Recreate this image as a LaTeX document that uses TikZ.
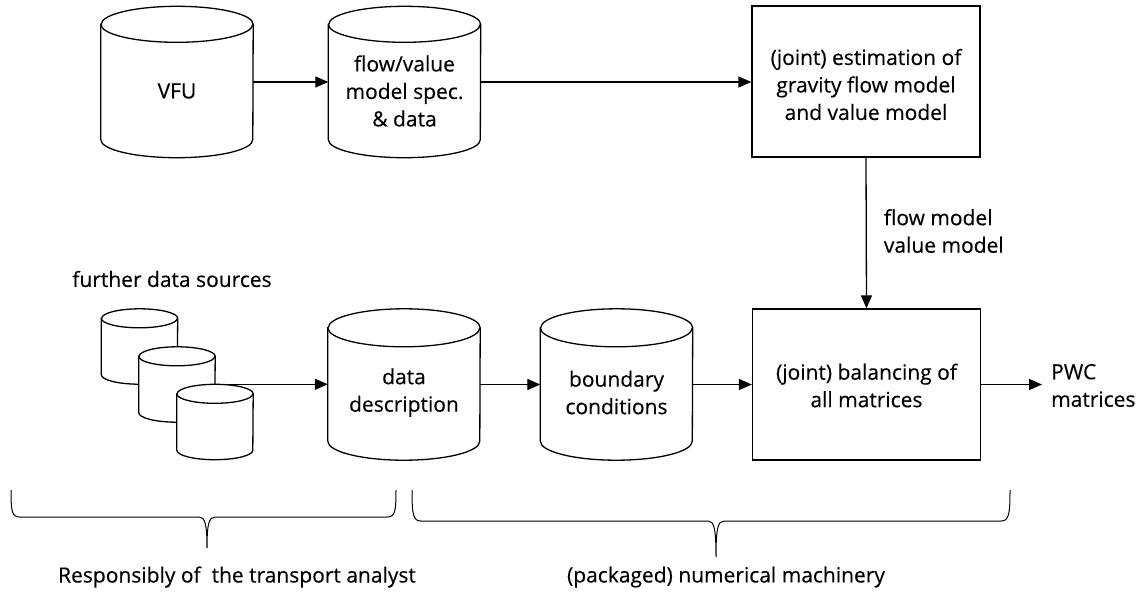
\documentclass[tikz,border=0pt]{standalone}
\usepackage{fontspec}
\newfontfamily\labelfont{Open Sans}[FakeBold=0.3]
\usetikzlibrary{arrows.meta}

\tikzset{
  base/.style={line width=1.3pt, draw=black},
  txt/.style={font=\labelfont\fontsize{21}{27.5}\selectfont, align=center, inner sep=0pt},
  % invisible frame of a drum-shaped data store; the outline is drawn by \drum
  dbframe/.style={rectangle, inner sep=0pt, minimum width=152pt, minimum height=151pt},
  smallframe/.style={rectangle, inner sep=0pt, minimum width=76pt, minimum height=75pt},
  proc/.style={base, txt, rectangle, minimum width=228pt, minimum height=151pt},
  arr/.style={line width=1.3pt, -{Triangle[length=13pt,width=11pt]}},
  bracepath/.style={line width=1pt},
}

% \drum{node}{x radius}{cap radius}: cylinder outline filling the node's frame
\newcommand\drum[3]{%
  \draw[base, fill=white]
    ([yshift=-#3]#1.north west) -- ([yshift=#3]#1.south west)
    arc[start angle=180, end angle=360, x radius=#2, y radius=#3]
    -- ([yshift=-#3]#1.north east)
    arc[start angle=0, end angle=180, x radius=#2, y radius=#3] -- cycle;
  \draw[base] ([yshift=-#3]#1.north west)
    arc[start angle=180, end angle=360, x radius=#2, y radius=#3];
}

\begin{document}
\begin{tikzpicture}[x=1pt, y=-1pt]
\useasboundingbox (0,0) rectangle (1138,592);

% top row
\node[dbframe] (vfu)  at (177,82) {};
\drum{vfu}{76pt}{18pt}
\node[txt] (vfu-t) at ([yshift=-9pt]vfu.center) {VFU};

\node[dbframe] (spec) at (404.5,82) {};
\drum{spec}{76pt}{18pt}
\node[txt] (spec-t) at ([yshift=-9pt]spec.center) {flow/value\\model spec.\\\& data};

\node[proc] (est) at (866,81.5) {};
\node[txt] (est-t) at ([yshift=-3pt]est.center) {(joint) estimation of\\gravity flow model\\and value model};

% further data sources: three stacked drums
\node[smallframe] (src1) at (139.5,346.5) {};
\drum{src1}{38pt}{9.5pt}
\node[smallframe] (src2) at (177,384.5) {};
\drum{src2}{38pt}{9.5pt}
\node[smallframe] (src3) at (215,422) {};
\drum{src3}{38pt}{9.5pt}
\node[txt] (srclabel) at (172,279) {further data sources};

% bottom row
\node[dbframe] (desc) at (404,384.5) {};
\drum{desc}{76pt}{19pt}
\node[txt] (desc-t) at ([yshift=-8pt]desc.center) {data\\description};

\node[dbframe] (bound) at (616.5,384.5) {};
\drum{bound}{76pt}{19pt}
\node[txt] (bound-t) at ([yshift=-8pt]bound.center) {boundary\\conditions};

\node[proc] (bal) at (866.5,384.5) {};
\node[txt] (bal-t) at ([yshift=-1pt]bal.center) {(joint) balancing of\\all matrices};

\node[txt, anchor=west, align=left] (pwc) at (1051,385.5) {PWC\\matrices};
\coordinate (pwcin) at (1042,384.5);

% connectors
\draw[arr] (vfu.east) -- (spec.west);
\draw[arr] (spec.east) -- (spec.east -| est.west);
\draw[arr] (est.south) -- node[txt, anchor=west, align=left, xshift=17pt, yshift=2pt] (models) {flow model\\value model} (bal.north);
\draw[arr] (src2.east |- src3.north) -- (desc.west |- src3.north);
\draw[arr] (desc.east) -- (bound.west);
\draw[arr] (bound.east) -- (bal.west);
\draw[arr] (bal.east) -- (pwcin);

% braces
\draw[bracepath] (11,490) .. controls (11,512) and (12,517) .. (20,517)
  -- (199,517) .. controls (205,517) and (207,524) .. (207,548)
  .. controls (207,524) and (209,517) .. (215,517)
  -- (387,517) .. controls (395,517) and (396,512) .. (396,490);
\draw[bracepath] (412,490) .. controls (412,514) and (413,521) .. (421,521)
  -- (708,521) .. controls (714,521) and (716,528) .. (716,557)
  .. controls (716,528) and (718,521) .. (724,521)
  -- (1001,521) .. controls (1009,521) and (1010,514) .. (1010,490);

\node[txt] (analyst) at (237,577) {Responsibly of\ \ the transport analyst};
\node[txt] (machinery) at (726,577) {(packaged) numerical machinery};
\end{tikzpicture}
\end{document}
